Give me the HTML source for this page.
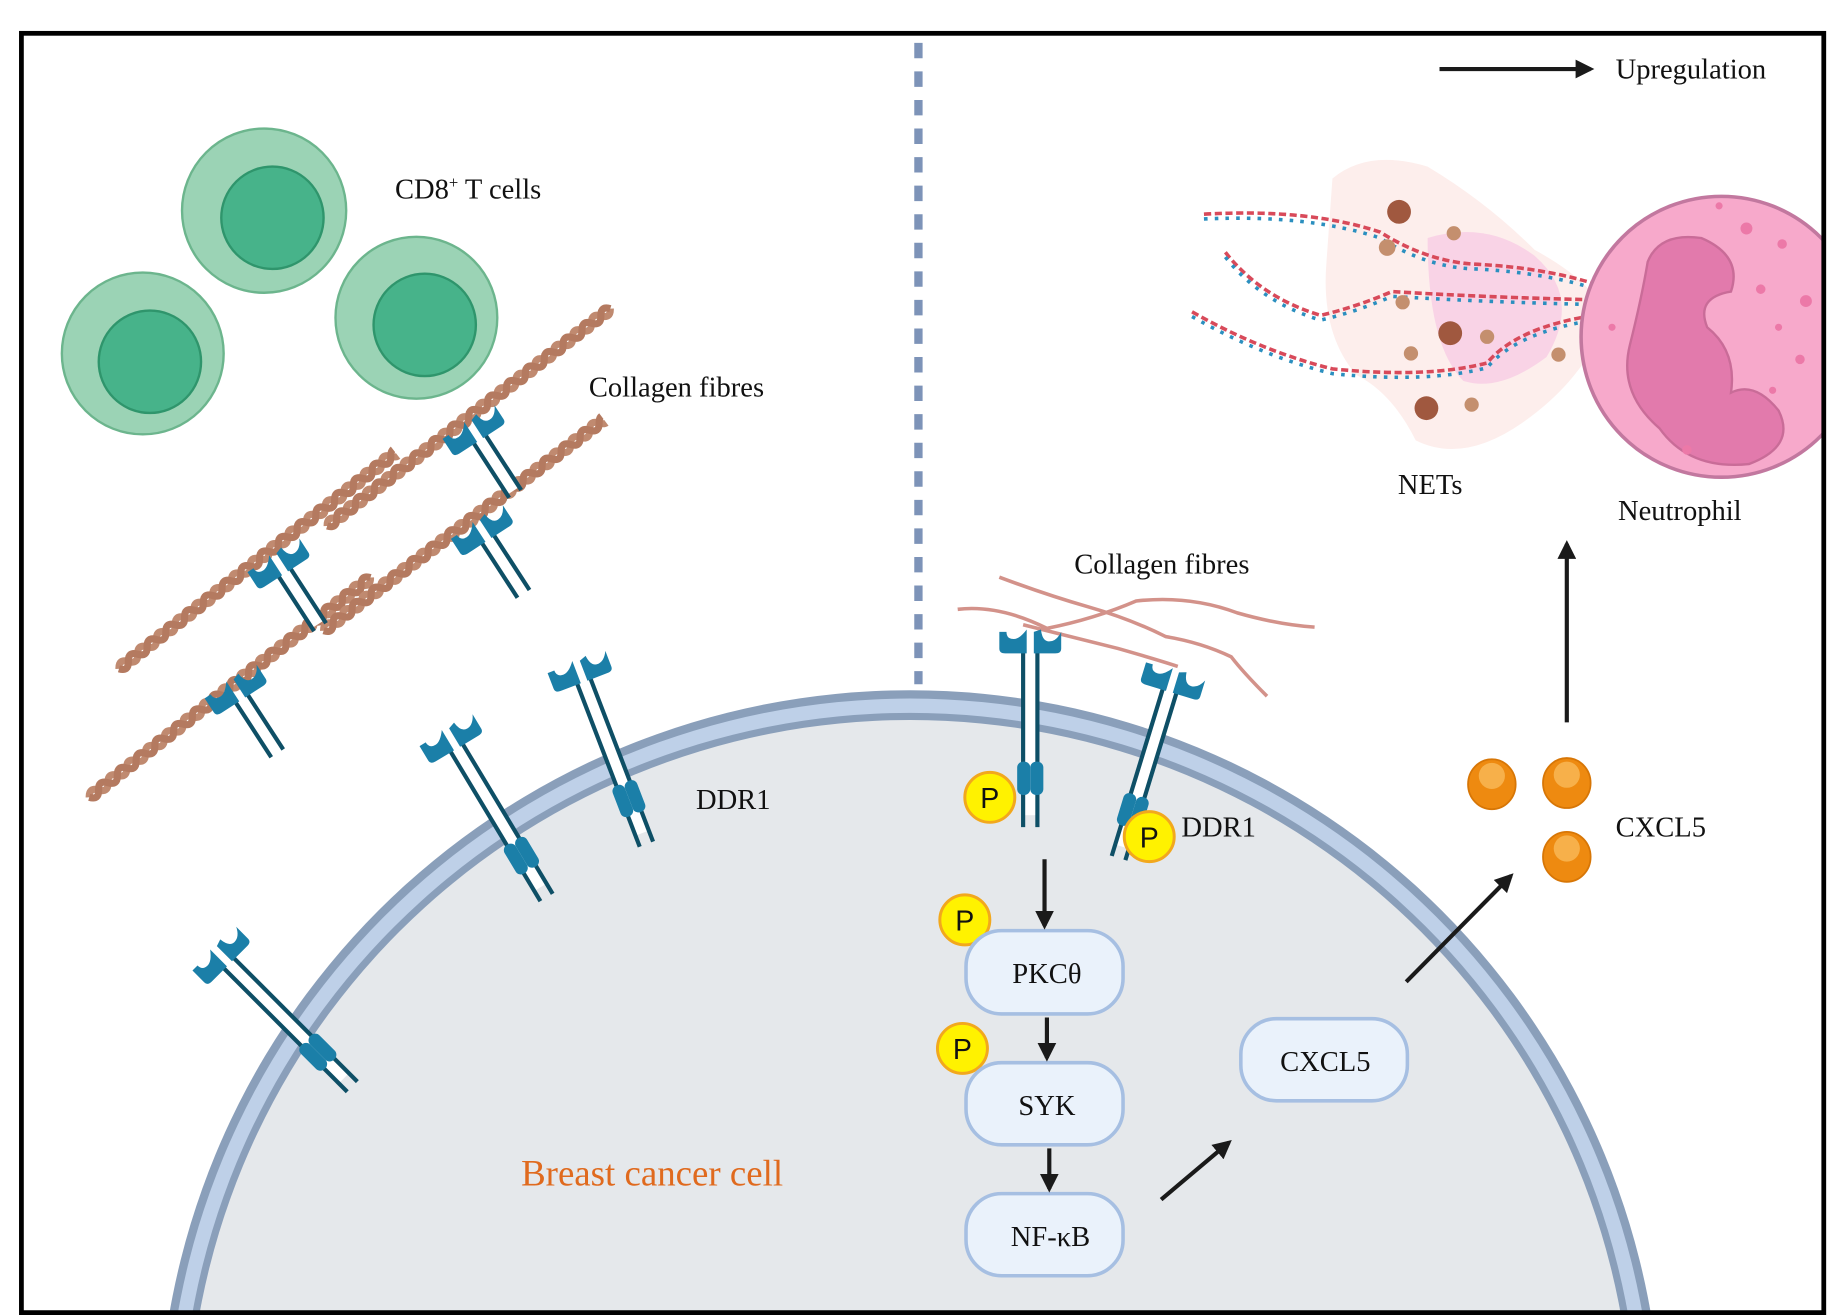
<!DOCTYPE html>
<html><head><meta charset="utf-8"><style>
html,body{margin:0;padding:0;background:#fff;width:1844px;height:1315px;overflow:hidden;}
svg{display:block;}
text{font-family:"Liberation Serif",serif;fill:#111;}
</style></head><body>
<svg width="1844" height="1315" viewBox="0 0 1550 1105" preserveAspectRatio="none" xmlns="http://www.w3.org/2000/svg" overflow="hidden">
<defs>
<clipPath id="frame"><rect x="18" y="28" width="1515" height="1075"/></clipPath>
<clipPath id="c300"><rect x="-5" y="-10" width="300" height="20"/></clipPath>
<clipPath id="c310"><rect x="-5" y="-10" width="310" height="20"/></clipPath>
<marker id="ah" viewBox="0 0 10 10" refX="8" refY="5" markerWidth="4.5" markerHeight="4.5" orient="auto"><path d="M0,0 L10,5 L0,10 z" fill="#1a1a1a"/></marker>
<g id="cups">
  <path d="M-26,-4 L-26,10 Q-26,14 -21,14 L-3,14 L-3,-6 Q-9,2 -14,2 Q-20,2 -20,-4 z" fill="#1b7fa8"/>
  <path d="M3,-4 L3,14 L21,14 Q26,14 26,10 L26,-4 Q22,4 16,4 Q10,4 9,-6 z" fill="#1b7fa8"/>
</g>
<g id="rec">
  <rect x="-5" y="10" width="10" height="140" fill="#fff"/>
  <line x1="-6" y1="10" x2="-6" y2="160" stroke="#0e4f66" stroke-width="3.5"/>
  <line x1="6" y1="10" x2="6" y2="160" stroke="#0e4f66" stroke-width="3.5"/>
  <use href="#cups"/>
  <rect x="-11" y="105" width="11" height="28" rx="5" fill="#1b7fa8"/>
  <rect x="0" y="105" width="11" height="28" rx="5" fill="#1b7fa8"/>
</g>
<g id="recs">
  <rect x="-5" y="10" width="10" height="55" fill="#fff"/>
  <line x1="-6" y1="10" x2="-6" y2="68" stroke="#0e4f66" stroke-width="3.5"/>
  <line x1="6" y1="10" x2="6" y2="68" stroke="#0e4f66" stroke-width="3.5"/>
  <use href="#cups"/>
</g>
<path id="wave" d="M0,0 q5,-7 10,0 t10,0 t10,0 t10,0 t10,0 t10,0 t10,0 t10,0 t10,0 t10,0 t10,0 t10,0 t10,0 t10,0 t10,0 t10,0 t10,0 t10,0 t10,0 t10,0 t10,0 t10,0 t10,0 t10,0 t10,0 t10,0 t10,0 t10,0 t10,0 t10,0" fill="none"/>
<g id="rope">
  <use href="#wave" stroke="#c08a70" stroke-width="6"/>
  <use href="#wave" stroke="#b47a60" stroke-width="6" transform="scale(1,-1)"/>
</g>
</defs>

<g clip-path="url(#frame)">
  <circle cx="765" cy="1212" r="632" fill="#8a9fba"/>
  <circle cx="765" cy="1212" r="625" fill="#bed0e8"/>
  <circle cx="765" cy="1212" r="613" fill="#8a9fba"/>
  <circle cx="765" cy="1212" r="607" fill="#e5e8eb"/>
</g>

<line x1="772" y1="36" x2="772" y2="575" stroke="#7d93b8" stroke-width="7" stroke-dasharray="13,11"/>

<g stroke-width="2">
<circle cx="222" cy="177" r="69" fill="#9bd3b5" stroke="#6cb58d"/>
<circle cx="229" cy="183" r="43" fill="#47b38a" stroke="#2f956c"/>
<circle cx="120" cy="297" r="68" fill="#9bd3b5" stroke="#6cb58d"/>
<circle cx="126" cy="304" r="43" fill="#47b38a" stroke="#2f956c"/>
<circle cx="350" cy="267" r="68" fill="#9bd3b5" stroke="#6cb58d"/>
<circle cx="357" cy="273" r="43" fill="#47b38a" stroke="#2f956c"/>
</g>
<text x="332" y="167" font-size="24">CD8<tspan font-size="14" dy="-9">+</tspan><tspan dy="9"> T cells</tspan></text>

<g transform="translate(100,562) rotate(-38)"><use href="#rope" clip-path="url(#c300)"/></g>
<g transform="translate(275,442) rotate(-37.5)"><use href="#rope" clip-path="url(#c310)"/></g>
<g transform="translate(75,670) rotate(-38)"><use href="#rope" clip-path="url(#c310)"/></g>
<g transform="translate(272,530) rotate(-37)"><use href="#rope" clip-path="url(#c300)"/></g>

<use href="#recs" transform="translate(232,470) rotate(-33)"/>
<use href="#recs" transform="translate(196,576) rotate(-33)"/>
<use href="#recs" transform="translate(396,358) rotate(-33)"/>
<use href="#recs" transform="translate(403,442) rotate(-33)"/>
<text x="495" y="333" font-size="24">Collagen fibres</text>

<use href="#rec" transform="translate(377,617) rotate(-31)"/>
<use href="#rec" transform="translate(486,560) rotate(-21)"/>
<use href="#rec" transform="translate(183,800) rotate(-45)"/>
<text x="585" y="680" font-size="24">DDR1</text>
<text x="438" y="996" font-size="31" style="fill:#e06a1e">Breast cancer cell</text>

<g stroke="#c9786e" stroke-width="3" fill="none" opacity="0.8">
<path d="M805,512 Q840,508 880,528 Q920,520 955,505 Q1000,500 1040,515 Q1075,525 1105,527"/>
<path d="M840,485 Q880,500 915,510 Q950,520 980,535 Q1010,540 1035,552 Q1045,565 1065,585"/>
<path d="M860,525 Q900,535 940,545 Q975,555 990,560"/>
</g>
<use href="#rec" transform="translate(866,535)"/>
<use href="#rec" transform="translate(987,568) rotate(17)"/>
<text x="903" y="482" font-size="24">Collagen fibres</text>
<text x="993" y="703" font-size="24">DDR1</text>

<g stroke="#f2a81d" stroke-width="2.5" fill="#fff200">
<circle cx="832" cy="670" r="21"/><circle cx="966" cy="703" r="21"/>
<circle cx="811" cy="773" r="21"/><circle cx="809" cy="881" r="21"/>
</g>
<g font-size="24" text-anchor="middle">
<text x="832" y="679" style="font-family:'Liberation Sans',sans-serif">P</text>
<text x="966" y="712" style="font-family:'Liberation Sans',sans-serif">P</text>
<text x="811" y="782" style="font-family:'Liberation Sans',sans-serif">P</text>
<text x="809" y="890" style="font-family:'Liberation Sans',sans-serif">P</text>
</g>

<g fill="#eaf2fb" stroke="#a6bfe2" stroke-width="3">
<rect x="812" y="782" width="132" height="70" rx="30"/>
<rect x="812" y="893" width="132" height="69" rx="30"/>
<rect x="812" y="1003" width="132" height="69" rx="30"/>
<rect x="1043" y="856" width="140" height="69" rx="30"/>
</g>
<g font-size="24" text-anchor="middle">
<text x="880" y="826">PKCθ</text>
<text x="880" y="937">SYK</text>
<text x="883" y="1047">NF-κB</text>
<text x="1114" y="900">CXCL5</text>
</g>

<g stroke="#1a1a1a" stroke-width="3.5" marker-end="url(#ah)">
<line x1="878" y1="722" x2="878" y2="778"/>
<line x1="880" y1="855" x2="880" y2="889"/>
<line x1="882" y1="965" x2="882" y2="999"/>
<line x1="976" y1="1008" x2="1033" y2="960"/>
<line x1="1182" y1="825" x2="1270" y2="736"/>
<line x1="1317" y1="607" x2="1317" y2="457"/>
<line x1="1210" y1="58" x2="1337" y2="58"/>
</g>
<text x="1358" y="66" font-size="24">Upregulation</text>

<g fill="#ee8a10" stroke="#d77606" stroke-width="1.5">
<ellipse cx="1254" cy="659" rx="20" ry="21"/><ellipse cx="1317" cy="658" rx="20" ry="21"/><ellipse cx="1317" cy="720" rx="20" ry="21"/>
</g>
<g fill="#f7b04a"><circle cx="1254" cy="652" r="11"/><circle cx="1317" cy="651" r="11"/><circle cx="1317" cy="713" r="11"/></g>
<text x="1358" y="703" font-size="24">CXCL5</text>

<path d="M1120,150 Q1150,125 1200,140 Q1250,170 1290,210 Q1345,240 1350,270 Q1330,320 1280,355 Q1230,390 1190,370 Q1170,330 1140,315 Q1110,280 1115,220 z" fill="#fdeeec"/>
<path d="M1200,200 Q1250,185 1290,215 Q1330,250 1300,300 Q1260,330 1230,320 Q1200,290 1200,200 z" fill="#f9d3e6"/>
<g fill="none" stroke-width="3">
<path d="M1012,180 Q1100,175 1160,195 Q1200,220 1240,222 Q1300,225 1345,240" stroke="#d84a5a" stroke-dasharray="6,3"/>
<path d="M1012,184 Q1100,180 1160,200 Q1200,225 1240,226 Q1300,229 1345,244" stroke="#2b8fbf" stroke-dasharray="3,6"/>
<path d="M1030,212 Q1060,250 1110,265 Q1140,258 1170,245 Q1250,250 1345,252" stroke="#d84a5a" stroke-dasharray="6,3"/>
<path d="M1030,216 Q1060,254 1110,269 Q1140,262 1170,249 Q1250,254 1345,256" stroke="#2b8fbf" stroke-dasharray="3,6"/>
<path d="M1002,262 Q1060,295 1120,310 Q1200,318 1250,305 Q1275,275 1340,265" stroke="#d84a5a" stroke-dasharray="6,3"/>
<path d="M1002,266 Q1060,299 1120,314 Q1200,322 1250,309 Q1275,279 1340,269" stroke="#2b8fbf" stroke-dasharray="3,6"/>
</g>
<g fill="#a0583f"><circle cx="1176" cy="178" r="10"/><circle cx="1219" cy="280" r="10"/><circle cx="1199" cy="343" r="10"/></g>
<g fill="#c48f6e"><circle cx="1222" cy="196" r="6"/><circle cx="1166" cy="208" r="7"/><circle cx="1179" cy="254" r="6"/><circle cx="1250" cy="283" r="6"/><circle cx="1186" cy="297" r="6"/><circle cx="1310" cy="298" r="6"/><circle cx="1237" cy="340" r="6"/></g>
<text x="1175" y="415" font-size="24">NETs</text>

<g clip-path="url(#frame)">
<circle cx="1447" cy="283" r="118" fill="#f7a9cb" stroke="#c2789f" stroke-width="3"/>
<path d="M1385,220 Q1395,195 1430,200 Q1465,215 1455,245 Q1425,250 1435,275 Q1460,295 1455,330 Q1475,320 1495,345 Q1510,375 1470,390 Q1420,395 1395,360 Q1360,330 1370,290 Q1380,250 1385,220 z" fill="#e27aac" stroke="#c96c98" stroke-width="2"/>
<g fill="#ec79a8"><circle cx="1468" cy="192" r="5"/><circle cx="1498" cy="205" r="4"/><circle cx="1480" cy="243" r="4"/><circle cx="1518" cy="253" r="5"/><circle cx="1495" cy="275" r="3"/><circle cx="1513" cy="302" r="4"/><circle cx="1490" cy="328" r="3"/><circle cx="1418" cy="378" r="4"/><circle cx="1355" cy="275" r="3"/><circle cx="1445" cy="173" r="3"/></g>
</g>
<text x="1360" y="437" font-size="24">Neutrophil</text>

<rect x="18" y="28" width="1515" height="1075" fill="none" stroke="#000" stroke-width="4"/>
</svg>
</body></html>
